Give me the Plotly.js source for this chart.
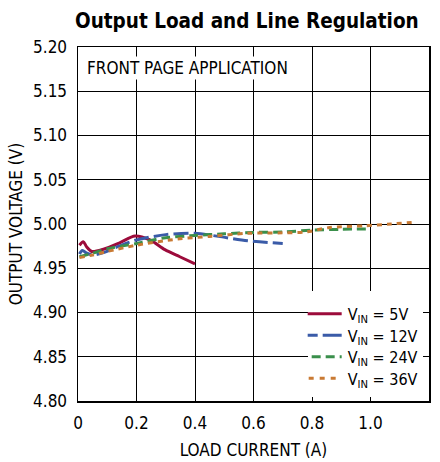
<!DOCTYPE html>
<html><head><meta charset="utf-8">
<script src="https://cdn.plot.ly/plotly-3.0.1.min.js"></script>
<style>html,body{margin:0;padding:0;background:#fff}#chart{width:440px;height:462px}</style>
</head><body><div id="chart"></div>
<script>
const x5 = [0.005, 0.018, 0.03, 0.047, 0.087, 0.144, 0.195, 0.246, 0.297, 0.348, 0.4];
const y5 = [4.976, 4.980, 4.974, 4.969, 4.9715, 4.979, 4.9865, 4.982, 4.971, 4.963, 4.955];
const x12 = [0.005, 0.015, 0.03, 0.05, 0.09, 0.14, 0.2, 0.3, 0.4, 0.48, 0.58, 0.7];
const y12 = [4.966, 4.970, 4.967, 4.965, 4.968, 4.975, 4.982, 4.988, 4.9895, 4.986, 4.981, 4.978];
const x24 = [0.005, 0.05, 0.1, 0.2, 0.3, 0.4, 0.5, 0.6, 0.7, 0.8, 0.9, 1.0];
const y24 = [4.963, 4.967, 4.972, 4.978, 4.9845, 4.987, 4.989, 4.9905, 4.991, 4.993, 4.994, 4.9945];
const x36 = [0.005, 0.05, 0.1, 0.2, 0.34, 0.45, 0.58, 0.7, 0.78, 0.86, 0.98, 1.07, 1.15];
const y36 = [4.962, 4.965, 4.969, 4.976, 4.983, 4.986, 4.9895, 4.990, 4.991, 4.996, 4.998, 5.000, 5.002];
const names = ['V<sub>IN</sub> = 5V', 'V<sub>IN</sub> = 12V', 'V<sub>IN</sub> = 24V', 'V<sub>IN</sub> = 36V'];
const xTicks = [0, 0.2, 0.4, 0.6, 0.8, 1.0, 1.2];
const xTickText = ['0', '0.2', '0.4', '0.6', '0.8', '1.0', '1.2'];
const yTicks = [4.80, 4.85, 4.90, 4.95, 5.00, 5.05, 5.10, 5.15, 5.20];

const FONT = '"DejaVu Sans Condensed", "Liberation Sans", Arial, sans-serif';
const mk = (x, y, name, color, dash) => ({
  x, y, name, type: 'scatter', mode: 'lines',
  line: {color, width: 3, dash, shape: 'spline', smoothing: 0.8}
});
const data = [
  mk(x5, y5, names[0], '#9c0b3b', 'solid'),
  mk(x12, y12, names[1], '#3a5ba8', '15px,5px'),
  mk(x24, y24, names[2], '#3a8f4b', '9px,5px'),
  mk(x36, y36, names[3], '#c97a33', '5px,5px')
];
const legendDash = ['none', '20,5', '9,5', '5,6'];
const axisBase = {
  showline: true, linecolor: '#000', linewidth: 1.5, mirror: 'ticks',
  ticks: 'inside', ticklen: 5, tickcolor: '#000', tickwidth: 1,
  showgrid: true, gridcolor: '#000', gridwidth: 1, zeroline: false,
  tickfont: {family: FONT, size: 17, color: '#000'}
};
const layout = {
  width: 440, height: 462,
  margin: {l: 78, r: 11, t: 47, b: 61},
  paper_bgcolor: '#fff', plot_bgcolor: '#fff',
  font: {family: FONT, color: '#000'},
  title: {text: '<b>Output Load and Line Regulation</b>', font: {family: FONT, size: 20.5, color: '#000'},
          xref: 'container', x: 0.561, xanchor: 'center', yref: 'container', y: 0.955, yanchor: 'middle'},
  xaxis: Object.assign({}, axisBase, {
    range: [0, 1.2], tickvals: xTicks, ticktext: xTickText, ticklabelstandoff: 6,
    title: {text: 'LOAD CURRENT (A)', font: {family: FONT, size: 17, color: '#000'}, standoff: 12}
  }),
  yaxis: Object.assign({}, axisBase, {
    range: [4.80, 5.20], tickvals: yTicks, tickformat: '.2f', ticklabelstandoff: 6,
    title: {text: 'OUTPUT VOLTAGE (V)', font: {family: FONT, size: 17, color: '#000'}, standoff: 6}
  }),
  legend: {x: 0.982, xanchor: 'right', y: 0.01, yanchor: 'bottom', bgcolor: '#fff', borderwidth: 0,
           font: {family: FONT, size: 16, color: '#000'}, tracegroupgap: 0, itemwidth: 30},
  showlegend: true,
  annotations: [{
    text: 'FRONT PAGE APPLICATION', xref: 'paper', yref: 'paper', x: 0.02, y: 0.975,
    xanchor: 'left', yanchor: 'top', showarrow: false, bgcolor: '#fff',
    font: {family: FONT, size: 17, color: '#000'}
  }]
};
Plotly.newPlot('chart', data, layout, {displayModeBar: false, staticPlot: true}).then(gd => {
  const items = gd.querySelectorAll('.legend .traces');
  let y0 = null;
  items.forEach((g, i) => {
    g.querySelectorAll('.legendlines path').forEach(p => {
      p.setAttribute('d', 'M-10,0h44');
      p.style.strokeDasharray = legendDash[i] || 'none';
    });
    const m = /translate\(\s*([-\d.]+)[ ,]+([-\d.]+)\s*\)/.exec(g.getAttribute('transform') || '');
    if (!m) return;
    if (y0 === null) y0 = parseFloat(m[2]);
    g.setAttribute('transform', 'translate(' + m[1] + ',' + (y0 + 5.5 + i * 21.5) + ')');
  });
});
</script></body></html>
